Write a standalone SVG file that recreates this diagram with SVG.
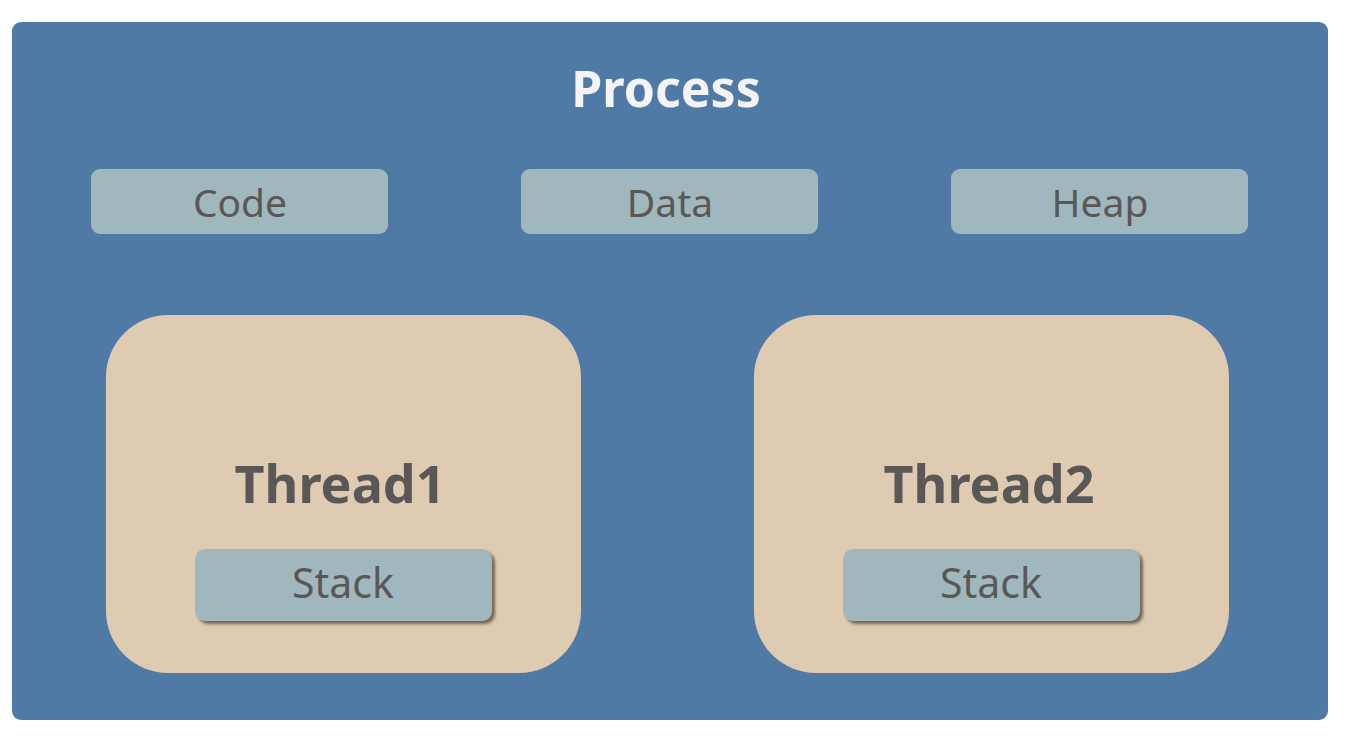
<svg xmlns="http://www.w3.org/2000/svg" width="1346" height="738" viewBox="0 0 1346 738">
<defs>
<style>
.seg{fill:#a0b8bd;}
.lbl{font-family:"Noto Sans","Liberation Sans",sans-serif;fill:#5a5757;text-anchor:middle;}
.thr{fill:#decbb1;}
</style>
<filter id="sh" x="-10%" y="-20%" width="130%" height="150%">
<feDropShadow dx="3" dy="3" stdDeviation="1.5" flood-color="#5a4e40" flood-opacity="0.8"/>
</filter>
</defs>
<rect width="1346" height="738" fill="#ffffff"/>
<g id="process">
<rect x="12" y="22" width="1316" height="698" rx="9" fill="#507aa6"/>
<text x="666" y="107" font-family="Noto Sans, Liberation Sans, sans-serif" font-weight="bold" font-size="50" fill="#f4f4f6" text-anchor="middle">Process</text>
</g>
<g id="code">
<rect class="seg" x="91" y="169" width="297" height="65" rx="9"/>
<text class="lbl" x="240" y="217" font-size="39">Code</text>
</g>
<g id="data">
<rect class="seg" x="521" y="169" width="297" height="65" rx="9"/>
<text class="lbl" x="670" y="217" font-size="39">Data</text>
</g>
<g id="heap">
<rect class="seg" x="951" y="169" width="297" height="65" rx="9"/>
<text class="lbl" x="1100" y="217" font-size="39">Heap</text>
</g>
<g id="thread1">
<rect class="thr" x="106" y="315" width="475" height="358" rx="62"/>
<text class="lbl" x="340" y="503" font-size="52" font-weight="bold">Thread1</text>
</g>
<g id="stack1">
<rect class="seg" x="195" y="549" width="297" height="72" rx="10" filter="url(#sh)"/>
<text class="lbl" x="343" y="598" font-size="41">Stack</text>
</g>
<g id="thread2">
<rect class="thr" x="754" y="315" width="475" height="358" rx="62"/>
<text class="lbl" x="989" y="503" font-size="52" font-weight="bold">Thread2</text>
</g>
<g id="stack2">
<rect class="seg" x="843" y="549" width="297" height="72" rx="10" filter="url(#sh)"/>
<text class="lbl" x="991" y="598" font-size="41">Stack</text>
</g>
<g id="connectors"></g>
</svg>
